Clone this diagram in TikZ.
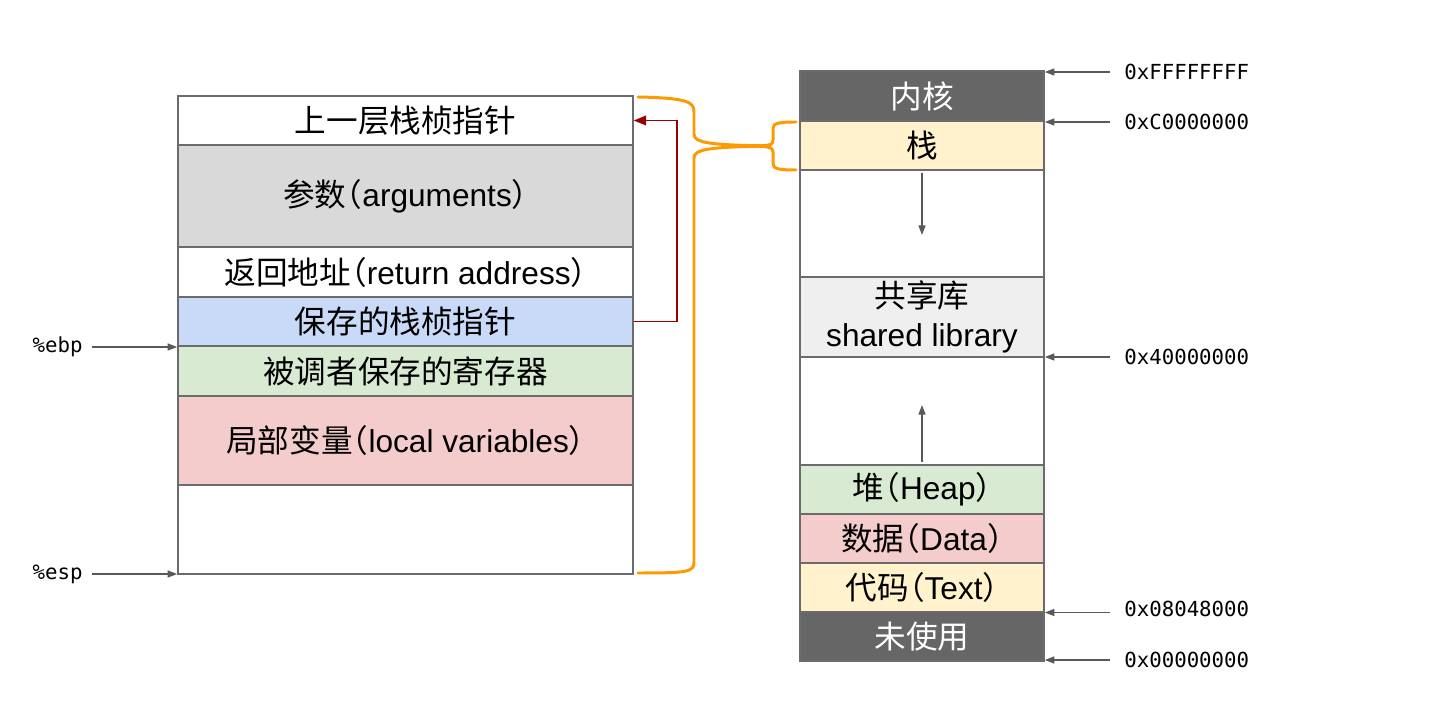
\documentclass[tikz,border=0pt]{standalone}
\usepackage{fontspec}
\setmainfont{Liberation Sans}
\newfontfamily\cjk[RawFeature=+halt]{Noto Sans CJK SC}
\newfontfamily\addrfont{DejaVu Sans Mono}
\usetikzlibrary{arrows.meta}

\definecolor{frame}{HTML}{6B6B6B}
\definecolor{darkcell}{HTML}{666666}
\definecolor{graycell}{HTML}{D9D9D9}
\definecolor{bluecell}{HTML}{C9DAF8}
\definecolor{greencell}{HTML}{D9EAD3}
\definecolor{pinkcell}{HTML}{F4CCCC}
\definecolor{yellowcell}{HTML}{FFF2CC}
\definecolor{libcell}{HTML}{EFEFEF}
\definecolor{ptrgray}{HTML}{595959}
\definecolor{linkred}{HTML}{990000}
\definecolor{braceorange}{HTML}{FF9900}

\begin{document}
\begin{tikzpicture}[x=0.02cm, y=-0.02cm, > = {Triangle[length=5.5pt,width=4pt]},
    cell/.style = {draw=frame, line width=0.9pt, inner sep=0pt, font=\fontsize{18}{22}\selectfont, align=center},
    frame/.style = {cell, minimum width=9.1cm},
    mem/.style = {cell, minimum width=4.88cm},
    addr/.style = {font=\addrfont\fontsize{11.8}{14}\selectfont, inner xsep=0.28cm, inner ysep=0pt},
    reg/.style = {addr, inner xsep=0.18cm},
    ptr/.style = {ptrgray, line width=0.85pt, ->},
    link/.style = {linkred, line width=0.9pt, -{Triangle[length=7pt,width=5.5pt]}},
    curly/.style = {braceorange, line width=1.7pt, line cap=round}]

    \useasboundingbox (0,0) rectangle (1441,702);

    % stack frame
    \node[frame, minimum height=0.98cm] (prev) at (405.5,120.5) {\cjk 上一层栈桢指针};
    \node[frame, fill=graycell, minimum height=2.04cm] (args) at (405.5,196) {{\cjk 参数（}arguments{\cjk ）}};
    \node[frame, minimum height=1.0cm] (ret) at (405.5,272) {{\cjk 返回地址（}return address{\cjk ）}};
    \node[frame, fill=bluecell, minimum height=0.98cm] (savedfp) at (405.5,321.5) {\cjk 保存的栈桢指针};
    \node[frame, fill=greencell, minimum height=1.0cm] (callee) at (405.5,371) {\cjk 被调者保存的寄存器};
    \node[frame, fill=pinkcell, minimum height=1.78cm] (locals) at (405.5,440.5) {{\cjk 局部变量（}local variables{\cjk ）}};
    \node[frame, minimum height=1.78cm] (free) at (405.5,529.5) {};

    % registers
    \node[reg, anchor=east] (ebp) at (92,347) {\%ebp};
    \node[reg, anchor=east] (esp) at (92,574) {\%esp};
    \draw[ptr] (ebp.east) -- (ebp.east -| free.west);
    \draw[ptr] (esp.east) -- (esp.east -| free.west);

    % saved frame pointer
    \draw[link] (savedfp.east) -- ++(43,0) |- (prev.east);

    % memory layout
    \node[mem, fill=darkcell, text=white, minimum height=1.0cm] (kernel) at (922,96) {\cjk 内核};
    \node[mem, fill=yellowcell, minimum height=0.98cm] (stack) at (922,145.5) {\cjk 栈};
    \node[mem, minimum height=2.14cm] (gapA) at (922,223.5) {};
    \node[mem, fill=libcell, minimum height=1.6cm] (lib) at (922,317) {{\cjk 共享库}\\shared library};
    \node[mem, minimum height=2.16cm] (gapB) at (922,411) {};
    \node[mem, fill=greencell, minimum height=0.98cm] (heap) at (922,489.5) {{\cjk 堆（}Heap{\cjk ）}};
    \node[mem, fill=pinkcell, minimum height=0.98cm] (data) at (922,538.5) {{\cjk 数据（}Data{\cjk ）}};
    \node[mem, fill=yellowcell, minimum height=0.98cm] (text) at (922,587.5) {{\cjk 代码（}Text{\cjk ）}};
    \node[mem, fill=darkcell, text=white, minimum height=0.98cm] (unused) at (922,636.5) {\cjk 未使用};

    % growth
    \coordinate (stackgrow) at (922,235);
    \coordinate (heapgrow) at (922,405);
    \draw[ptr] ([yshift=-2pt]gapA.north) -- (stackgrow);
    \draw[ptr] ([yshift=2pt]gapB.south) -- (heapgrow);

    % addresses
    \node[addr, anchor=west] (aFFFF) at (1110,72) {0xFFFFFFFF};
    \node[addr, anchor=west] (aC000) at (1110,122) {0xC0000000};
    \node[addr, anchor=west] (a4000) at (1110,357) {0x40000000};
    \node[addr, anchor=west] (a0804) at (1110,609) {0x08048000};
    \node[addr, anchor=west] (a0000) at (1110,660) {0x00000000};
    \draw[ptr] (aFFFF.west) -- (aFFFF.west -| kernel.east);
    \draw[ptr] (aC000.west) -- (aC000.west -| stack.east);
    \draw[ptr] (a4000.west) -- (a4000.west -| lib.east);
    \draw[ptr] ([yshift=-2pt]a0804.west) -- ([yshift=-2pt]a0804.west -| unused.east);
    \draw[ptr] (a0000.west) -- (a0000.west -| unused.east);

    % braces
    \draw[curly] (638,97) .. controls (688,98) and (694,102) .. (694,112) -- (694,134) .. controls (694,143) and (710,145) .. (770,146);
    \draw[curly] (770,146) .. controls (710,147) and (694,149) .. (694,158) -- (694,562) .. controls (694,572) and (688,573) .. (638,573);
    \draw[curly] (796,122) .. controls (780,122) and (773,123) .. (773,128) -- (773,140) .. controls (773,145) and (770,146) .. (750,146);
    \draw[curly] (750,146) .. controls (770,146) and (773,148) .. (773,152) -- (773,164) .. controls (773,169) and (780,170) .. (796,170);

\end{tikzpicture}
\end{document}
